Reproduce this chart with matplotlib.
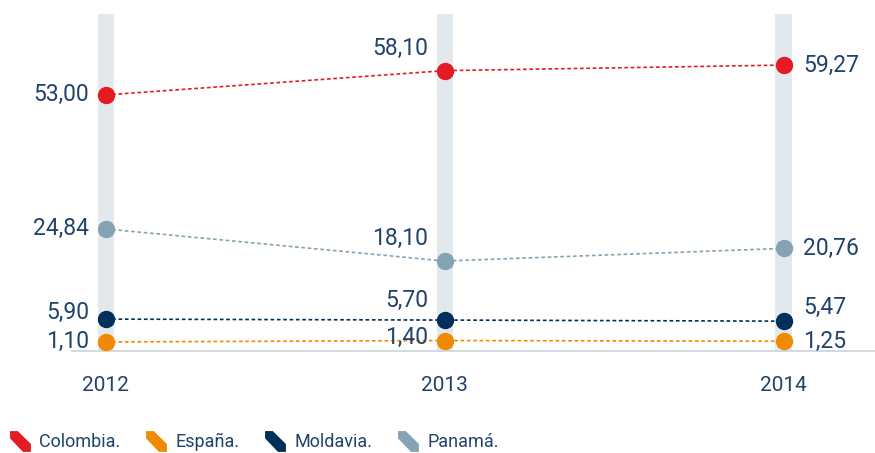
import numpy as np
import matplotlib
matplotlib.use('Agg')
import matplotlib.pyplot as plt
from matplotlib.lines import Line2D

plt.rcParams['font.family'] = ['Roboto', 'DejaVu Sans']

years = [2012, 2013, 2014]
countries = ['Colombia.', 'España.', 'Moldavia.', 'Panamá.']
colombia = [53.00, 58.10, 59.27]
espana = [1.10, 1.40, 1.25]
moldavia = [5.90, 5.70, 5.47]
panama = [24.84, 18.10, 20.76]
series = [colombia, espana, moldavia, panama]
colors = ['#e31b23', '#f18a00', '#002f5a', '#84a3b4']
text_color = '#21436b'

# label offsets (points) per series and year
offsets = {
    0: [(-12, 0, 'right'), (-12, 16, 'right'), (14, 0, 'left')],
    1: [(-12, 0, 'right'), (-12, 2, 'right'), (14, 0, 'left')],
    2: [(-12, 5, 'right'), (-12, 14, 'right'), (14, 10, 'left')],
    3: [(-12, 0, 'right'), (-12, 16, 'right'), (14, 0, 'left')],
}

def fmt(v):
    return f'{v:.2f}'.replace('.', ',')

fig = plt.figure(figsize=(8.75, 4.53), dpi=100)
ax = fig.add_axes([72 / 875, 102 / 453, 1 - 72 / 875, 337 / 453])

for yr in years:
    ax.axvspan(yr - 0.024, yr + 0.024, color='#e3e8ed', zorder=0, lw=0)

for i, (vals, c) in enumerate(zip(series, colors)):
    ax.plot(years, vals, color=c, lw=1.2, ls=(0, (2.2, 1.6)), zorder=2)
    ax.plot(years, vals, 'o', color=c, ms=11.5, zorder=3)
    for j, (yr, v) in enumerate(zip(years, vals)):
        dx, dy, ha = offsets[i][j]
        ax.annotate(fmt(v), (yr, v), xytext=(dx, dy), textcoords='offset points',
                    ha=ha, va='center', fontsize=16.5, color=text_color, zorder=4)

ax.set_xlim(2011.9, 2014.27)
ax.set_ylim(-0.8, 70)
ax.set_xticks(years)
ax.set_xticklabels([str(y) for y in years])
ax.tick_params(axis='x', length=0, pad=18, labelsize=15, labelcolor=text_color)
ax.set_yticks([])
for s in ['top', 'right', 'left']:
    ax.spines[s].set_visible(False)
ax.spines['bottom'].set_color('#c9d4dd')
ax.spines['bottom'].set_linewidth(1.2)

shape = [(0, 1), (0.37, 1), (1, 0.38), (1, 0), (0.62, 0), (0, 0.65), (0, 1)]
shape = [(x - 0.5, y - 0.5) for x, y in shape]
handles = [Line2D([], [], ls='none', marker=shape, ms=15, color=c, mec=c, mew=0) for c in colors]
leg = fig.legend(handles, countries, loc='lower left', bbox_to_anchor=(0.002, -0.012), ncol=4,
                 frameon=False, fontsize=13, handlelength=1.2, handletextpad=0.45,
                 columnspacing=1.4, borderaxespad=0.0)
for t in leg.get_texts():
    t.set_color(text_color)

fig.savefig('out.png', dpi=100)
